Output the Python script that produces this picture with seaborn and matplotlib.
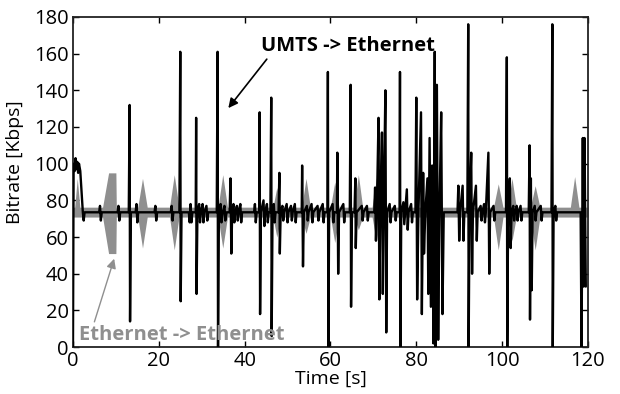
import pandas as pd
import matplotlib
matplotlib.use("Agg")
import matplotlib.pyplot as plt
import seaborn as sns

# UMTS -> Ethernet (black)
umts_t = [0, 0.15, 0.4, 0.6, 0.8, 1.0, 1.2, 1.4, 1.7, 2.3, 2.5, 2.7,
          6.1, 6.3, 6.5, 6.7, 10.4, 10.6, 10.8, 11.0,
          13.0, 13.2, 13.3, 13.5, 14.6, 14.8, 15.0, 15.2,
          19.0, 19.2, 19.4, 19.6, 22.8, 23.0, 23.2, 23.4,
          24.8, 25.0, 25.1, 25.3,
          27.0, 27.2, 27.4, 27.6, 27.8, 28.6, 28.7, 28.8, 29.0, 29.4, 29.6, 29.8,
          30.2, 30.4, 30.6, 31.1, 31.3, 31.5,
          33.5, 33.7, 33.8, 34.0, 34.4, 34.6, 34.9, 35.3, 35.5, 35.8,
          36.5, 36.7, 36.9, 37.1, 37.4, 37.6, 37.8, 38.2, 38.4, 38.6, 39.0, 39.2, 39.4,
          42.2, 42.4, 42.6, 42.8, 43.4, 43.5, 43.6, 43.8, 44.4, 44.6, 44.8,
          45.2, 45.4, 45.6, 46.0, 46.2, 46.3, 46.5, 46.8, 47.0, 47.2,
          47.9, 48.1, 48.2, 48.4, 48.8, 49.0, 49.2, 49.8, 50.0, 50.2,
          50.8, 51.0, 51.2, 51.7, 51.9, 52.1,
          53.3, 53.4, 53.6, 53.8, 54.5, 54.7, 54.9, 55.6, 55.8, 56.0,
          57.0, 57.2, 57.4, 58.2, 58.4, 58.6,
          59.3, 59.4, 59.5, 59.7, 60.5, 60.7, 60.9, 61.5, 61.6, 61.8, 62.0,
          63.0, 63.2, 63.4, 64.5, 64.7, 64.8, 65.0, 65.6, 65.8, 65.9, 66.1,
          67.3, 67.5, 67.7, 68.5, 68.7, 68.9,
          70.2, 70.4, 70.6, 70.8, 71.2, 71.4, 71.6, 72.0, 72.2, 72.4,
          72.8, 73.0, 73.2, 73.8, 74.0, 74.2, 75.0, 75.2, 75.4,
          76.1, 76.2, 76.3, 76.5, 77.0, 77.2, 77.4, 77.8, 78.0, 78.2,
          78.8, 79.0, 79.2,
          79.8, 80.0, 80.2, 80.5, 81.1, 81.3, 81.6, 81.8, 82.1, 82.6, 82.8,
          83.1, 83.4, 83.7, 84.0, 84.3, 84.5, 84.8, 85.1, 85.4, 85.8, 86.1, 86.4,
          89.6, 89.8, 90.0, 90.2, 90.8, 91.0, 91.2,
          91.9, 92.1, 92.2, 92.4, 92.8, 93.0, 93.2, 93.9, 94.1, 94.3,
          95.0, 95.2, 95.4, 95.8, 96.0, 96.2, 96.8, 97.0, 97.2, 98.0, 98.2, 98.4,
          100.9, 101.1, 101.2, 101.4, 101.8, 102.0, 102.2, 102.6, 102.8, 103.0,
          103.4, 103.6, 103.8, 104.3, 104.5, 104.7,
          106.2, 106.4, 106.5, 106.7, 106.9, 107.1, 107.6, 107.8, 108.0,
          109.0, 109.2, 109.4,
          111.5, 111.7, 111.8, 112.0, 112.4, 112.6, 112.8,
          118.3, 118.5, 118.8, 119.0, 119.2, 119.5]
umts_v = [0, 100, 96, 103, 97, 101, 95, 100, 96, 73.5, 69, 73.5,
          73.5, 77, 69, 73.5, 73.5, 77, 69, 73.5,
          73.5, 132, 14, 73.5, 73.5, 78, 68, 73.5,
          73.5, 77, 69, 73.5, 73.5, 77, 69, 73.5,
          73.5, 161, 25, 73.5,
          73.5, 68, 78, 68, 73.5, 73.5, 125, 29, 73.5, 78, 68, 73.5,
          78, 68, 73.5, 77, 69, 73.5,
          73.5, 161, 0, 73.5, 78, 68, 73.5, 77, 69, 73.5,
          73.5, 92, 51, 73.5, 78, 68, 73.5, 77, 69, 73.5, 78, 68, 73.5,
          73.5, 78, 68, 73.5, 73.5, 128, 18, 73.5, 80, 66, 73.5,
          78, 68, 73.5, 73.5, 136, 6, 73.5, 78, 68, 73.5,
          73.5, 95, 51, 73.5, 77, 69, 73.5, 78, 68, 73.5,
          77, 69, 73.5, 78, 68, 73.5,
          73.5, 99, 44, 73.5, 77, 69, 73.5, 78, 68, 73.5,
          77, 69, 73.5, 78, 68, 73.5,
          73.5, 150, 0, 73.5, 78, 68, 73.5, 73.5, 106, 40, 73.5,
          78, 68, 73.5, 73.5, 143, 22, 73.5, 73.5, 92, 54, 73.5,
          77, 69, 73.5, 77, 69, 73.5,
          73.5, 87, 58, 73.5, 125, 26, 73.5, 117, 29, 73.5,
          140, 8, 73.5, 78, 68, 73.5, 77, 69, 73.5,
          73.5, 150, 0, 73.5, 79, 67, 73.5, 86, 64, 73.5,
          78, 68, 73.5,
          73.5, 136, 26, 73.5, 128, 18, 95, 51, 73.5, 92, 29,
          114, 22, 99, 2, 161, 0, 143, 4, 73.5, 128, 18, 73.5,
          73.5, 88, 58, 73.5, 88, 58, 73.5,
          73.5, 176, 0, 73.5, 106, 40, 73.5, 88, 58, 73.5,
          77, 69, 73.5, 78, 68, 73.5, 106, 40, 73.5, 77, 69, 73.5,
          73.5, 158, 0, 73.5, 92, 54, 73.5, 77, 69, 73.5,
          77, 69, 73.5, 77, 69, 73.5,
          73.5, 110, 15, 92, 31, 73.5, 77, 69, 73.5,
          77, 69, 73.5,
          73.5, 176, 0, 73.5, 77, 69, 73.5,
          73.5, 0, 114, 33, 114, 33]

# Ethernet -> Ethernet (grey), upper and lower edge of the thick trace
eth_t = [0, 0.4, 1.0, 1.6, 6.9, 8.3, 10.0, 10.1, 15.1, 16.2, 17.3,
         22.5, 23.6, 24.7, 33.8, 34.9, 36.0, 46.6, 47.5, 48.4,
         53.3, 54.3, 55.3, 60.0, 61.0, 62.0, 65.5, 66.5, 67.5,
         69.7, 70.7, 71.7, 98.0, 99.1, 100.2, 101.3, 102.3, 103.3,
         106.6, 107.7, 108.8, 115.9, 116.9, 117.9, 120]
eth_hi = [76.3, 76.3, 92, 76.3, 76.3, 95, 95, 76.3, 76.3, 92, 76.3,
          76.3, 94, 76.3, 76.3, 94, 76.3, 76.3, 87, 76.3,
          76.3, 92, 76.3, 76.3, 90, 76.3, 76.3, 94, 76.3,
          76.3, 92, 76.3, 76.3, 89, 76.3, 76.3, 92, 76.3,
          76.3, 88, 76.3, 76.3, 93, 76.3, 76.3]
eth_lo = [70.9, 70.9, 70.9, 70.9, 70.9, 51, 51, 70.9, 70.9, 54, 70.9,
          70.9, 53, 70.9, 70.9, 54, 70.9, 70.9, 60, 70.9,
          70.9, 62, 70.9, 70.9, 57, 70.9, 70.9, 64, 70.9,
          70.9, 58, 70.9, 70.9, 53, 70.9, 70.9, 58, 70.9,
          70.9, 53, 70.9, 70.9, 70.9, 70.9, 70.9]

umts = pd.DataFrame({'Time': umts_t, 'Bitrate': umts_v})

sns.set_theme(style="ticks")
plt.rcParams['font.family'] = ['Open Sans', 'DejaVu Sans']
plt.rcParams['text.color'] = 'black'
plt.rcParams['axes.labelcolor'] = 'black'

fig = plt.figure(figsize=(6.2, 3.94), dpi=100)
ax = fig.add_axes([0.1177, 0.119, 0.8306, 0.838])

gris = '#8f8f8f'
ax.fill_between(eth_t, eth_lo, eth_hi, color=gris, lw=0, zorder=2)
sns.lineplot(data=umts, x='Time', y='Bitrate', estimator=None, sort=False,
             color='black', lw=1.7, ax=ax, zorder=3)

ax.set_xlim(0, 120)
ax.set_ylim(0, 180)
ax.set_xticks(range(0, 121, 20))
ax.set_yticks(range(0, 181, 20))
ax.tick_params(direction='in', top=True, right=True, length=4, width=1,
               labelsize=14.5, colors='black', labelcolor='black', pad=3)
for s in ax.spines.values():
    s.set_linewidth(1.3)
    s.set_color('#222222')

ax.set_xlabel('Time [s]', fontsize=14, labelpad=-1)
ax.set_ylabel('Bitrate [Kbps]', fontsize=14)
ax.yaxis.set_label_coords(-0.095, 0.56)

# flechas y etiquetas de las series
ax.annotate('UMTS -> Ethernet', xy=(36.2, 130.3), xytext=(64, 161.5),
            ha='center', va='baseline', fontsize=14.5, fontweight='bold',
            color='black',
            arrowprops=dict(arrowstyle='-|>', color='black', lw=1.2,
                            mutation_scale=14, shrinkA=0, shrinkB=0,
                            relpos=(0.05, 0.0)))
ax.annotate('Ethernet -> Ethernet', xy=(9.6, 48.2), xytext=(1.4, 3.8),
            ha='left', va='baseline', fontsize=14.5, fontweight='bold',
            color=gris,
            arrowprops=dict(arrowstyle='-|>', color=gris, lw=1.0,
                            mutation_scale=14, shrinkA=0, shrinkB=0,
                            relpos=(0.07, 1.0)))

fig.savefig('out.png', dpi=100)
